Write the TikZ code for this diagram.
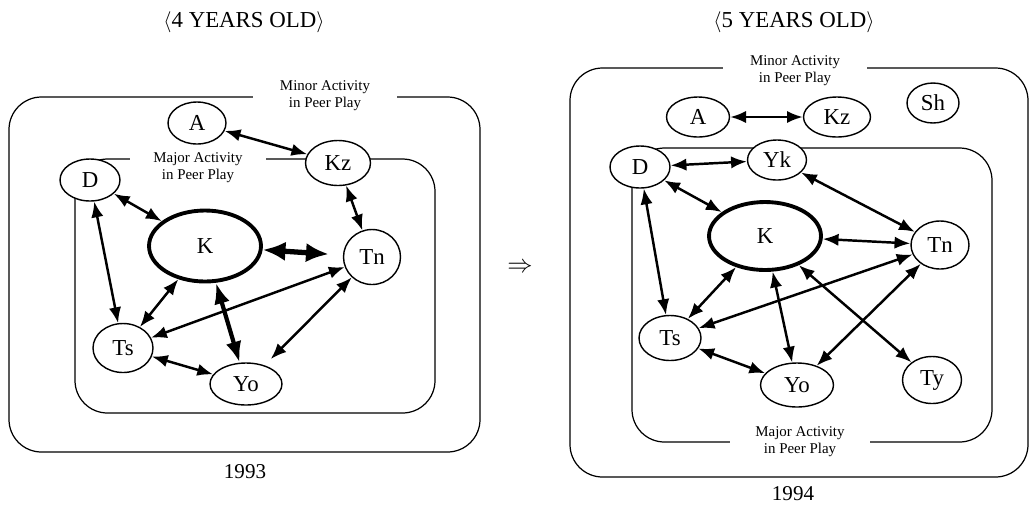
\documentclass[tikz,border=0pt]{standalone}
\usepackage{fontspec}
\setmainfont{Liberation Serif}
\usetikzlibrary{shapes.geometric, arrows.meta}
\tikzstyle{kid} = [ellipse, draw=black, fill=white, line width=0.8pt, inner sep=0pt, minimum width=1.2cm, minimum height=0.84cm, font=\fontsize{13}{14}\selectfont]
\tikzstyle{core} = [kid, line width=2.2pt, minimum width=2.24cm, minimum height=1.42cm]
\tikzstyle{link} = [line width=1.4pt, <->, >={Latex[length=9pt,width=7pt]}]
\tikzstyle{strong_link} = [line width=3pt, <->, >={Latex[length=13pt,width=11pt]}]
\tikzstyle{mid_link} = [line width=2.4pt, <->, >={Latex[length=12pt,width=9pt]}]
\tikzstyle{area_label} = [fill=white, align=center, inner sep=1pt, font=\fontsize{8.5}{9.8}\selectfont]
\tikzstyle{area} = [line width=0.7pt, rounded corners=0.65cm]

\begin{document}
\begin{tikzpicture}[x=0.02cm, y=-0.02cm]
        \useasboundingbox (0,0) rectangle (1031,505);

        % 1993
        \node (title4) at (244, 22) [font=\fontsize{13}{15}\selectfont] {$\langle$4 YEARS OLD$\rangle$};
        \draw[area] (9,97) rectangle (480,452);
        \draw[area] (75,159) rectangle (435,413);
        \node (minor4) at (325, 96) [area_label, minimum width=2.88cm] {Minor Activity\\in Peer Play};
        \node (major4) at (198, 168) [area_label, minimum width=2.74cm] {Major Activity\\in Peer Play};

        \node (a4) at (197, 123) [kid, minimum width=1.16cm] {A};
        \node (kz4) at (338, 163) [kid, minimum width=1.3cm, minimum height=0.9cm] {Kz};
        \node (d4) at (90, 180) [kid] {D};
        \node (k4) at (205, 246) [core] {K};
        \node (tn4) at (372, 257) [kid, minimum width=1.14cm, minimum height=1.1cm] {Tn};
        \node (ts4) at (123, 348) [kid, minimum height=0.98cm] {Ts};
        \node (yo4) at (246, 384) [kid, minimum width=1.44cm] {Yo};

        \draw[link] (a4) -- (kz4);
        \draw[link] (kz4) -- (tn4);
        \draw[link] (d4) -- (k4);
        \draw[link] (d4) -- (ts4);
        \draw[link] (k4) -- (ts4);
        \draw[link] (tn4) -- (ts4);
        \draw[link] (ts4) -- (yo4);
        \draw[link, shorten >=5pt] (tn4) -- (yo4);
        \draw[mid_link] (k4) -- (yo4);
        \draw[strong_link, shorten >=8pt] (k4) -- (tn4);

        \node (year4) at (245, 472) [font=\fontsize{12}{14}\selectfont] {1993};

        \node (then) at (520, 268) [font=\fontsize{14}{14}\selectfont] {$\Rightarrow$};

        % 1994
        \node (title5) at (794, 22) [font=\fontsize{13}{15}\selectfont] {$\langle$5 YEARS OLD$\rangle$};
        \draw[area] (570,68) rectangle (1028,477);
        \draw[area] (632,148) rectangle (992,442);
        \node (minor5) at (795, 71) [area_label, minimum width=2.9cm] {Minor Activity\\in Peer Play};
        \node (major5) at (800, 442) [area_label, minimum width=2.8cm] {Major Activity\\in Peer Play};

        \node (a5) at (698, 117) [kid, minimum width=1.26cm, minimum height=0.8cm] {A};
        \node (kz5) at (837, 117) [kid, minimum width=1.34cm, minimum height=0.8cm] {Kz};
        \node (sh5) at (933, 103) [kid, minimum width=1.04cm, minimum height=0.8cm] {Sh};
        \node (d5) at (640, 167) [kid] {D};
        \node (yk5) at (777, 160) [kid, minimum width=1.18cm, minimum height=0.8cm] {Yk};
        \node (k5) at (765, 236) [core, minimum height=1.36cm] {K};
        \node (tn5) at (940, 245) [kid, minimum width=1.16cm, minimum height=0.96cm] {Tn};
        \node (ts5) at (670, 338) [kid, minimum width=1.24cm, minimum height=0.9cm] {Ts};
        \node (yo5) at (797, 385) [kid, minimum width=1.46cm, minimum height=0.88cm] {Yo};
        \node (ty5) at (932, 380) [kid, minimum width=1.18cm, minimum height=0.94cm] {Ty};

        \draw[link] (a5) -- (kz5);
        \draw[link] (d5) -- (yk5);
        \draw[link] (d5) -- (k5);
        \draw[link] (yk5) -- (tn5);
        \draw[link] (k5) -- (tn5);
        \draw[link] (d5) -- (ts5);
        \draw[link] (k5) -- (ts5);
        \draw[link] (k5) -- (yo5);
        \draw[link] (k5) -- (ty5);
        \draw[link] (tn5) -- (ts5);
        \draw[link] (tn5) -- (yo5);
        \draw[link] (ts5) -- (yo5);

        \node (year5) at (793, 494) [font=\fontsize{12}{14}\selectfont] {1994};
    \end{tikzpicture}
\end{document}
